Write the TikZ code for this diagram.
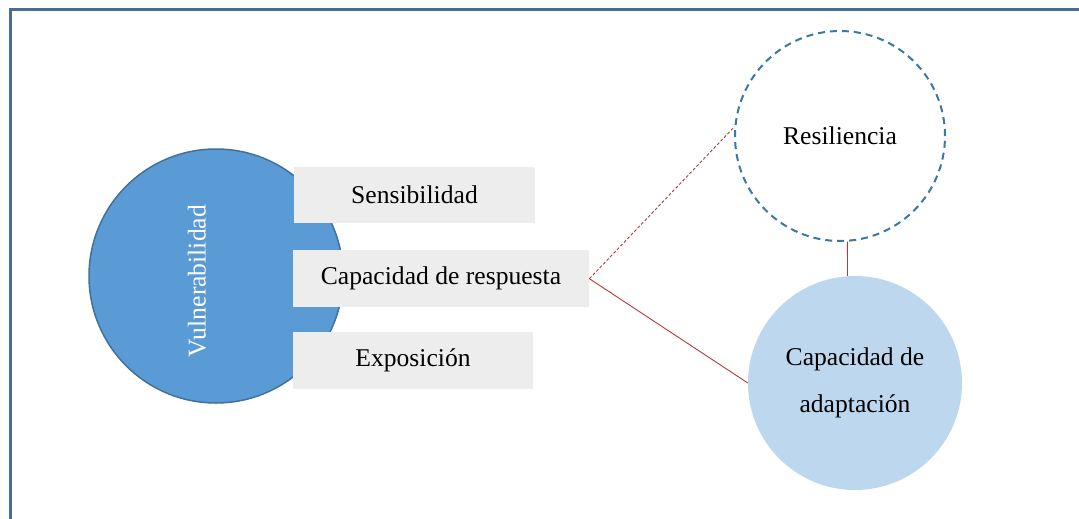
\documentclass[tikz,border=0pt]{standalone}
\usepackage{fontspec}
\setmainfont{Liberation Serif}
\definecolor{frameblue}{HTML}{4A6E90}
\definecolor{vulfill}{HTML}{5B9BD5}
\definecolor{vuldraw}{HTML}{41719C}
\definecolor{resildash}{HTML}{3A78A6}
\definecolor{adaptfill}{HTML}{BDD7EE}
\definecolor{boxfill}{HTML}{EDEDED}
\definecolor{linkred}{HTML}{A8403E}
\begin{document}
\begin{tikzpicture}[x=1pt,y=-1pt,
  txt/.style={font=\fontsize{25.6}{47}\selectfont, text=black},
  graybox/.style={txt, fill=boxfill, draw=none, inner sep=0pt, anchor=north west},
  link/.style={draw=linkred, line width=0.9pt}]
\useasboundingbox (0,0) rectangle (1079,519);
\fill[white] (0,0) rectangle (1079,519);
% frame
\draw[frameblue, line width=3.5pt] (10.5,519) -- (10.5,9.5) -- (1079,9.5);
% Vulnerabilidad circle
\node[circle, fill=vulfill, draw=vuldraw, line width=1.5pt, minimum size=254pt, inner sep=0pt] (vul) at (216,276) {};
\node[txt, text=white, rotate=90] (vultxt) at (197,281) {Vulnerabilidad};
% boxes
\node[graybox, minimum width=241pt, minimum height=56pt] (sens) at (294,167) {};
\node[txt] (senstxt) at (414.5,195) {Sensibilidad};
\node[graybox, minimum width=296pt, minimum height=57pt] (resp) at (293,250) {};
\node[txt] (resptxt) at (441,278.5) {Capacidad de respuesta};
\node[graybox, minimum width=240pt, minimum height=57pt] (expo) at (293,332) {};
\node[txt] (expotxt) at (413,360.5) {Exposición};
% right circles
\node[circle, draw=resildash, dash pattern=on 7pt off 5pt, line width=2pt, fill=white, minimum size=210pt, inner sep=0pt, txt] (resil) at (840,136) {Resiliencia};
\node[circle, fill=adaptfill, draw=none, minimum size=214pt, inner sep=0pt, txt, align=center] (adapt) at (855,383) {Capacidad de\\adaptación};
% connectors
\draw[link, dash pattern=on 3pt off 2pt] (resp.east) -- (resil.175);
\draw[link] (resp.east) -- (adapt.180);
\draw[link] (resil.-86) -- (adapt.94);
\end{tikzpicture}
\end{document}
